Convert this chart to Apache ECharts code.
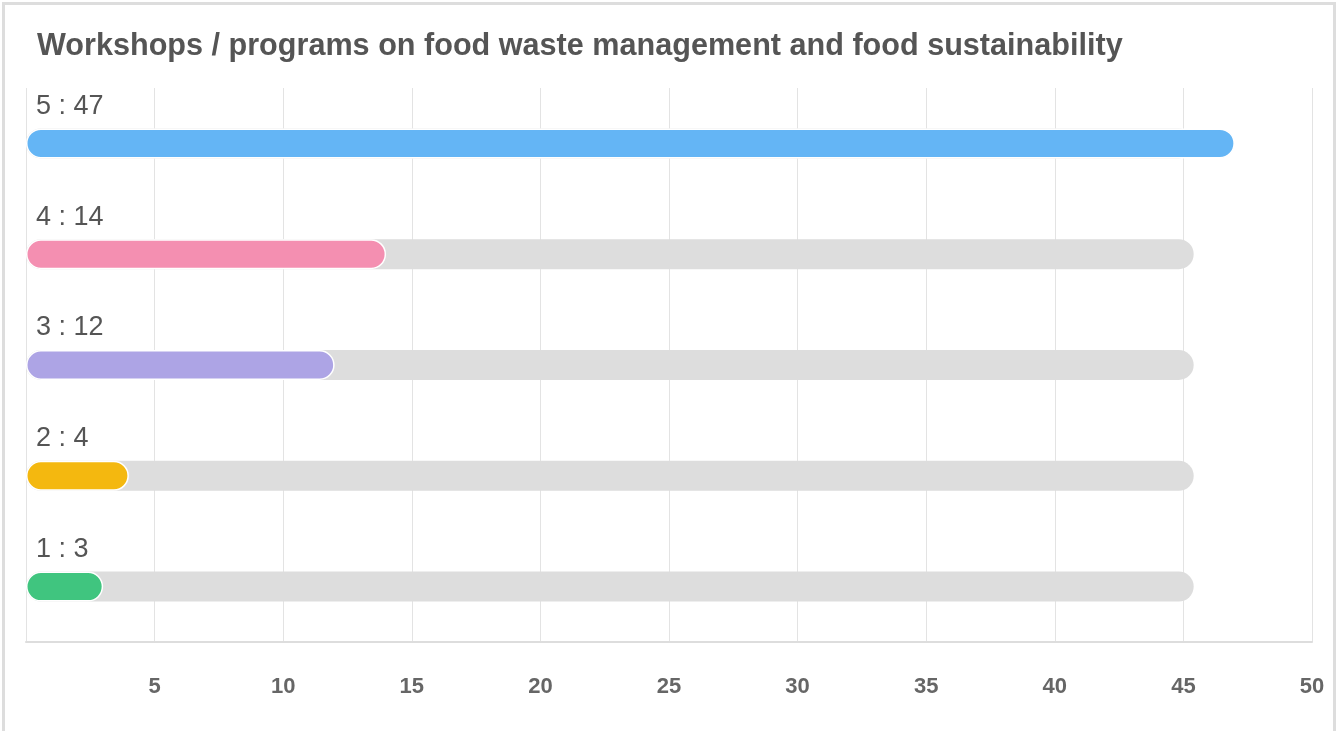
<!DOCTYPE html>
<html>
<head>
<meta charset="utf-8">
<script src="https://cdn.jsdelivr.net/npm/echarts@6/dist/echarts.min.js"></script>
<style>
html,body{margin:0;padding:0;background:#fff;}
#chart{width:1337px;height:731px;}
</style>
</head>
<body>
<div id="chart"></div>
<script>
var titleText = 'Workshops / programs on food waste management and food sustainability';
var categories = ['1', '2', '3', '4', '5'];
var values = [3, 4, 12, 14, 47];
var trackValues = [45.4, 45.4, 45.4, 45.4, 45.4];
var barColors = ['#40c57f', '#f4b80f', '#ada4e5', '#f48fb1', '#64b5f5'];
var xTicks = [5, 10, 15, 20, 25, 30, 35, 40, 45, 50];

var chart = echarts.init(document.getElementById('chart'), null, {renderer: 'canvas'});
var option = {
  animation: false,
  backgroundColor: '#fff',
  title: {
    text: titleText,
    left: 37,
    top: 31,
    padding: 0,
    textStyle: {fontFamily: 'Liberation Sans, Arial, sans-serif', fontSize: 30.6, fontWeight: 'bold', color: '#555'}
  },
  graphic: [{
    type: 'rect',
    shape: {x: 3.5, y: 3.5, width: 1331, height: 740},
    style: {fill: 'none', stroke: '#dddddd', lineWidth: 3},
    silent: true
  }],
  grid: {left: 26, right: 25, top: 88, bottom: 89, containLabel: false},
  xAxis: {
    type: 'value',
    min: 0,
    max: 50,
    interval: 5,
    axisLine: {show: true, lineStyle: {color: '#dddddd', width: 2}},
    axisTick: {show: false},
    splitLine: {show: true, lineStyle: {color: '#e3e3e3', width: 1}},
    axisLabel: {
      margin: 34,
      fontFamily: 'Liberation Sans, Arial, sans-serif',
      fontSize: 22,
      fontWeight: 'bold',
      color: '#666',
      formatter: function (v) { return xTicks.indexOf(v) >= 0 ? String(v) : ''; }
    }
  },
  yAxis: {
    type: 'category',
    data: categories,
    axisLine: {show: false},
    axisTick: {show: false},
    axisLabel: {show: false},
    splitLine: {show: false}
  },
  series: [
    {
      type: 'bar',
      data: trackValues,
      barWidth: 30,
      barGap: '-100%',
      silent: true,
      itemStyle: {color: '#dddddd', borderRadius: 15},
      z: 1
    },
    {
      type: 'bar',
      data: values.map(function (v, i) { return {value: v, itemStyle: {color: barColors[i]}}; }),
      barWidth: 30,
      barGap: '-100%',
      itemStyle: {borderRadius: 15, borderColor: '#ffffff', borderWidth: 1.5},
      label: {
        show: true,
        position: [10, -22],
        verticalAlign: 'middle',
        align: 'left',
        formatter: '{b} : {c}',
        fontFamily: 'Liberation Sans, Arial, sans-serif',
        fontSize: 27,
        color: '#555'
      },
      z: 2
    }
  ]
};
chart.setOption(option);
</script>
</body>
</html>
